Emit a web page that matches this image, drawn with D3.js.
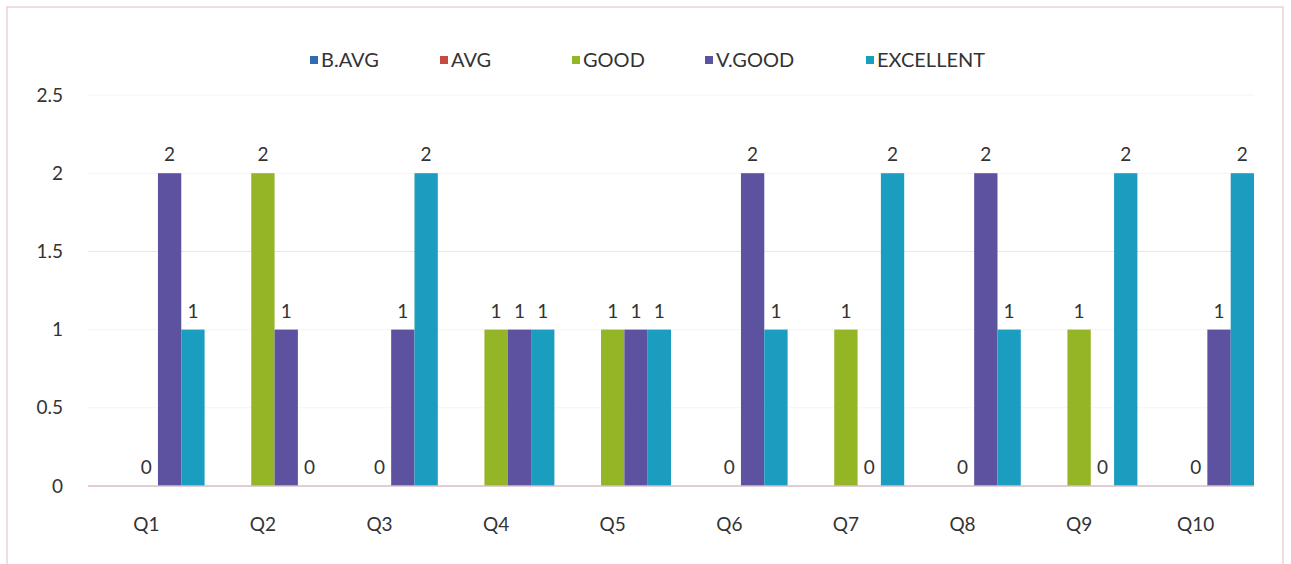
<!DOCTYPE html>
<html>
<head>
<meta charset="utf-8">
<script src="https://cdn.jsdelivr.net/npm/d3@7"></script>
<style>
body{margin:0;background:#fff;}
text{font-family:Lato,"Open Sans",sans-serif;fill:#333;}
</style>
</head>
<body>
<div class="one"></div>
<script>
// data (null = no bar, no label)
const questions=["Q1","Q2","Q3","Q4","Q5","Q6","Q7","Q8","Q9","Q10"]
const series=["B.AVG","AVG","GOOD","V.GOOD","EXCELLENT"]
const bavg=[null,null,null,null,null,null,null,null,null,null]
const avg=[null,null,null,null,null,null,null,null,null,null]
const good=[0,2,0,1,1,0,1,0,1,0]
const vgood=[2,1,1,1,1,2,0,2,0,1]
const excellent=[1,0,2,1,1,1,2,1,2,2]
const yticks=[0,0.5,1,1.5,2,2.5]
const colors=["#2f6db3","#c64a3e","#94b526","#5d52a0","#1b9dc0"]

class chart{
	constructor(){
		this.values=[bavg,avg,good,vgood,excellent]
		this.draw()
	}
	draw(){
		let svg=d3.select('.one').append('svg').attr('width',1291).attr('height',564)
		// outer frame
		svg.append('rect').attr('x',7).attr('y',7).attr('width',1276).attr('height',600)
			.attr('fill','none').attr('stroke','#e3c8d0').attr('stroke-width',1.2)

		this.xscale=d3.scaleBand().domain(questions).range([88,1254]).padding(0)
		this.sub=d3.scaleBand().domain(series).range([0,this.xscale.bandwidth()]).padding(0)
		this.yscale=d3.scaleLinear().domain([0,2.5]).range([486,95])

		// gridlines
		svg.append('g').selectAll('line').data(yticks.filter(d=>d>0)).join('line')
			.attr('x1',88).attr('x2',1254)
			.attr('y1',d=>this.yscale(d)).attr('y2',d=>this.yscale(d))
			.attr('stroke',d=>d===1.5?'#f3dfe6':'#faf1f4').attr('stroke-width',1)

		// y axis labels
		let yaxis=d3.axisLeft(this.yscale).tickValues(yticks).tickFormat(d=>String(d)).tickSize(0).tickPadding(0)
		let ya=svg.append('g').attr('transform','translate(63,0)').call(yaxis)
		ya.select('.domain').remove()
		ya.selectAll('text').style('font-size','19px').attr('fill','#444')

		// x axis labels
		let xaxis=d3.axisBottom(this.xscale).tickSize(0).tickPadding(0)
		let xa=svg.append('g').attr('transform','translate(0,517)').call(xaxis)
		xa.select('.domain').remove()
		xa.selectAll('text').style('font-size','19px').attr('fill','#444')

		// bars
		let rows=[]
		questions.map((q,i)=>{
			series.map((s,j)=>{
				let v=this.values[j][i]
				if(v!==null)rows.push({q:q,s:s,v:v,c:colors[j]})
			})
		})
		let that=this
		svg.append('g').selectAll('rect').data(rows.filter(d=>d.v>0)).join('rect')
			.attr('x',d=>that.xscale(d.q)+that.sub(d.s))
			.attr('y',d=>that.yscale(d.v))
			.attr('width',that.sub.bandwidth())
			.attr('height',d=>that.yscale(0)-that.yscale(d.v))
			.attr('fill',d=>d.c)

		// baseline
		svg.append('line').attr('x1',88).attr('x2',1254)
			.attr('y1',this.yscale(0)).attr('y2',this.yscale(0))
			.attr('stroke','#d8bcc6').attr('stroke-width',1.5)

		// data labels
		svg.append('g').selectAll('text').data(rows).join('text')
			.attr('x',d=>that.xscale(d.q)+that.sub(d.s)+that.sub.bandwidth()/2)
			.attr('y',d=>that.yscale(d.v)-12)
			.attr('text-anchor','middle')
			.style('font-size','19px').attr('fill','#222')
			.text(d=>d.v)

		// legend
		let legx=[310,440,572,705,866]
		let leg=svg.append('g').selectAll('g').data(series).join('g')
			.attr('transform',(d,i)=>'translate('+legx[i]+',60)')
		leg.append('rect').attr('x',0).attr('y',-4).attr('width',8).attr('height',8)
			.attr('fill',(d,i)=>colors[i])
		leg.append('text').attr('x',11).attr('y',7)
			.style('font-size','20px').attr('fill','#444').text(d=>d)
	}
}
new chart()
</script>
</body>
</html>
